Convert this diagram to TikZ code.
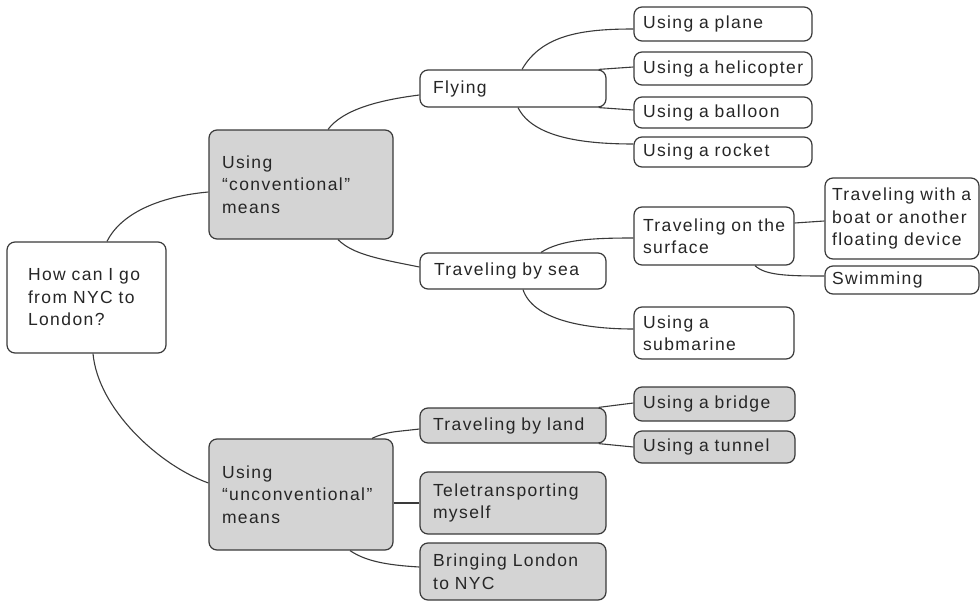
\documentclass[tikz,border=0pt]{standalone}
\usepackage{fontspec}
\setmainfont[LetterSpace=8]{Liberation Sans}
\usetikzlibrary{calc}
\definecolor{boxgray}{HTML}{D4D4D4}
\definecolor{edge}{HTML}{3A3A3A}
\tikzset{
  mbox/.style={draw=edge, line width=1.2pt, rounded corners=8pt, align=left,
    font=\fontsize{17.5}{22.5}\selectfont, text=black!85, inner ysep=0pt, anchor=center},
  gbox/.style={mbox, fill=boxgray},
  wbox/.style={mbox, fill=white},
  link/.style={draw=edge, line width=1.1pt}
}
\newcommand{\bx}[7]{% name, style, cx, cy, w, h, xsep ; text via next arg
  \node[#2, inner xsep=#7pt, text width=#5pt-2*#7pt, minimum height=#6pt] (#1) at (#3,#4)}
\begin{document}
\begin{tikzpicture}[x=1pt,y=-1pt]
\useasboundingbox (0,0) rectangle (980,602);
% level 0
\bx{root}{wbox}{86.5}{297.5}{159}{111}{21}{How can I go\\from NYC to\\London?};
% level 1
\bx{conv}{gbox}{301}{184.5}{184}{109}{13}{Using\\``conventional''\\means};
\bx{unconv}{gbox}{301}{494.5}{184}{111}{13}{Using\\``unconventional''\\means};
% level 2
\bx{flying}{wbox}{513}{88.5}{186}{37}{13}{Flying};
\bx{sea}{wbox}{513}{271}{186}{36}{14}{Traveling by sea};
\bx{land}{gbox}{513}{425.5}{186}{35}{13}{Traveling by land};
\bx{tele}{gbox}{513}{503}{186}{62}{13}{Teletransporting\\myself};
\bx{bring}{gbox}{513}{571.5}{186}{57}{13}{Bringing London\\to NYC};
% level 3
\bx{plane}{wbox}{723}{24}{178}{34}{9}{Using a plane};
\bx{heli}{wbox}{723}{68.5}{178}{33}{9}{Using a helicopter};
\bx{balloon}{wbox}{723}{112.5}{178}{31}{9}{Using a balloon};
\bx{rocket}{wbox}{723}{152}{178}{30}{9}{Using a rocket};
\bx{surface}{wbox}{714}{236}{160}{58}{9}{Traveling~on~the\\surface};
\bx{sub}{wbox}{714}{333}{160}{52}{9}{Using a\\submarine};
\bx{bridge}{gbox}{714.5}{404}{161}{34}{9}{Using a bridge};
\bx{tunnel}{gbox}{714.5}{447}{161}{32}{9}{Using a tunnel};
% level 4
\bx{boat}{wbox}{902}{218.5}{154}{81}{7}{Traveling~with~a\\boat or another\\floating device};
\bx{swim}{wbox}{902}{280}{154}{28}{7}{Swimming};
% connectors
\draw[link] ($(root.north)+(20.5,0)$) .. controls +(15,-30) and +(-45,4) .. ($(conv.west)+(0,7.5)$);
\draw[link] ($(root.south)+(6.5,0)$) .. controls +(5,55) and +(-50,-18) .. ($(unconv.west)+(0,-11.5)$);
\draw[link] ($(conv.north)+(27,0)$) .. controls +(15,-20) and +(-40,5) .. ($(flying.west)+(0,6.5)$);
\draw[link] ($(conv.south)+(37,0)$) .. controls +(15,15) and +(-40,-8) .. ($(sea.west)+(0,-4)$);
\draw[link] ($(unconv.north)+(71,0)$) .. controls +(15,-7) and +(-25,3) .. ($(land.west)+(0,3.5)$);
\draw[link] (unconv.east |- tele.west) -- (tele.west);
\draw[link] ($(unconv.south)+(49,0)$) .. controls +(15,10) and +(-35,-2) .. ($(bring.west)+(0,-4.5)$);
\draw[link] ($(flying.north)+(9,0)$) .. controls +(20,-35) and +(-50,0) .. ($(plane.west)+(0,5)$);
\draw[link] ($(flying.north east)+(-8,0)$) -- ($(heli.west)+(0,-1.5)$);
\draw[link] ($(flying.south east)+(-8,0)$) -- ($(balloon.west)+(0,-2.5)$);
\draw[link] ($(flying.south)+(5,0)$) .. controls +(15,30) and +(-50,0) .. ($(rocket.west)+(0,-8)$);
\draw[link] ($(sea.north)+(28,0)$) .. controls +(20,-13) and +(-40,0) .. ($(surface.west)+(0,2)$);
\draw[link] ($(sea.south)+(10,0)$) .. controls +(10,30) and +(-50,0) .. ($(sub.west)+(0,-4)$);
\draw[link] ($(surface.east)+(0,-13)$) -- ($(boat.west)+(0,2.5)$);
\draw[link] ($(surface.south)+(41,0)$) .. controls +(10,10) and +(-35,0) .. ($(swim.west)+(0,-4)$);
\draw[link] ($(land.north east)+(-8,0)$) -- ($(bridge.west)+(0,-1)$);
\draw[link] ($(land.south east)+(-8,0)$) -- (tunnel.west);
\end{tikzpicture}
\end{document}
